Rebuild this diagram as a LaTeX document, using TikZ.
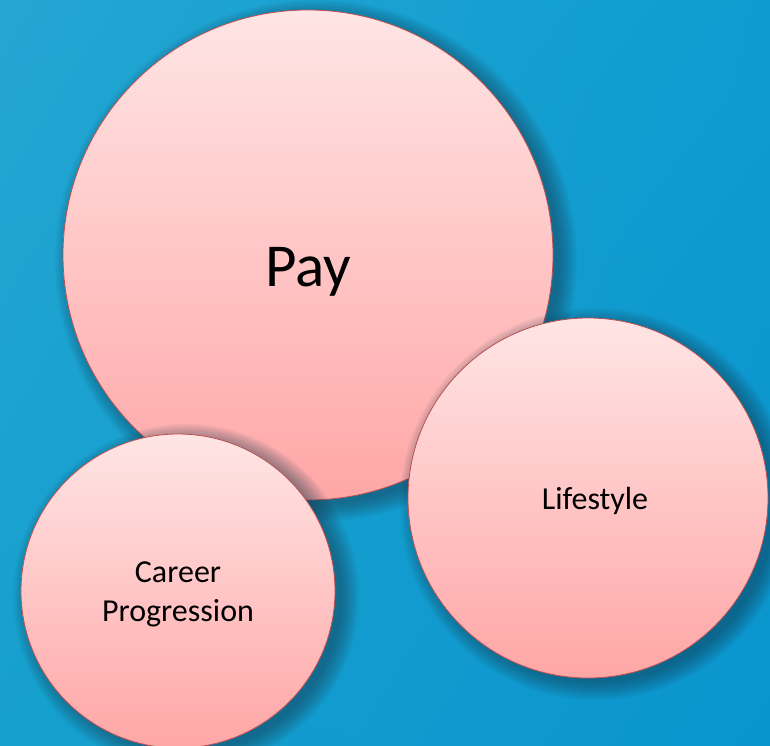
\documentclass[tikz,border=0pt]{standalone}
\usepackage{fontspec}
\setmainfont{Carlito}
\usetikzlibrary{shadings}
\definecolor{bgA}{RGB}{36,166,210}
\definecolor{bgB}{RGB}{14,156,208}
\definecolor{bgC}{RGB}{22,160,205}
\definecolor{bgD}{RGB}{10,148,206}
\definecolor{pinkTop}{RGB}{255,229,229}
\definecolor{pinkBot}{RGB}{255,166,166}
\definecolor{rim}{RGB}{190,80,80}
\definecolor{shad}{RGB}{20,60,80}
\tikzset{
  bubble/.style={circle, draw=rim, line width=0.8pt, top color=pinkTop, bottom color=pinkBot, inner sep=0pt},
  lbl/.style={anchor=base, inner sep=0pt, text=black, font=\fontsize{32}{38}\selectfont},
}
\newcommand{\myshadow}[3]{%
  \foreach \k in {0,...,11}{%
    \fill[shad, opacity=0.05] (#1+8,#2+6) circle[radius=#3+16-1.6*\k];
  }%
}
\begin{document}
\begin{tikzpicture}[x=1pt,y=-1pt]
\useasboundingbox (0,0) rectangle (770,745);
\shade[upper left=bgA, upper right=bgB, lower left=bgC, lower right=bgD] (0,0) rectangle (770,745);
\begin{scope}
\clip (0,0) rectangle (770,745);
\myshadow{308}{255}{245}
\node[bubble, minimum size=490pt] (pay) at (308,255) {};
\node[lbl, font=\fontsize{61}{70}\selectfont] (payT) at ([shift={(0,31)}]pay.center) {Pay};
\myshadow{178}{591}{157}
\node[bubble, minimum size=314pt] (career) at (178,591) {};
\node[lbl] (careerT1) at ([shift={(0,-9)}]career.center) {Career};
\node[lbl] (careerT2) at ([shift={(0,30)}]career.center) {Progression};
\myshadow{588}{498}{180}
\node[bubble, minimum size=360pt] (life) at (588,498) {};
\node[lbl] (lifeT) at ([shift={(7,11)}]life.center) {Lifestyle};
\end{scope}
\end{tikzpicture}
\end{document}
